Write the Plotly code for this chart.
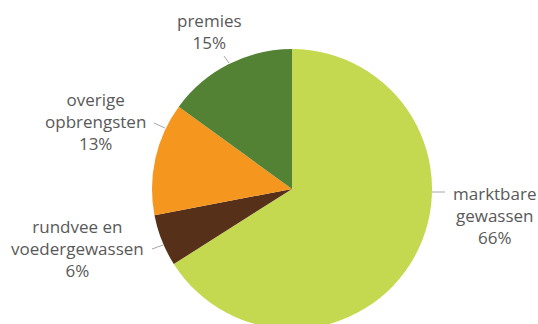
import plotly.graph_objects as go

# data
categories = ["marktbare gewassen", "rundvee en voedergewassen", "overige opbrengsten", "premies"]
display_labels = ["marktbare<br>gewassen", "rundvee en<br>voedergewassen", "overige<br>opbrengsten", "premies"]
values = [66, 6, 13, 15]
colors = ["#c4d950", "#57301a", "#f5961e", "#548235"]

W, H = 538, 340

# label layout (pixel positions of label centres and leader lines)
label_pos = [(494, 215), (77, 248), (95, 121), (209, 31)]
leader_lines = [((432, 192), (445, 192)), ((152, 249), (163, 245)),
                ((154, 123), (165, 128)), ((224, 56), (229, 63))]

fig = go.Figure(go.Pie(
    labels=categories, values=values, sort=False, direction="clockwise", rotation=0,
    marker=dict(colors=colors, line=dict(width=0)),
    textinfo="none", hoverinfo="label+percent",
    domain=dict(x=[152 / W, 432 / W], y=[(H - 329) / H, (H - 49) / H]),
    showlegend=False,
))

total = sum(values)
anns = []
for lab, v, (px, py) in zip(display_labels, values, label_pos):
    pct = round(100 * v / total)
    anns.append(dict(text=f"{lab}<br>{pct}%", x=px / W, y=1 - py / H, xref="paper", yref="paper",
                     xanchor="center", yanchor="middle", showarrow=False, align="center",
                     font=dict(family="Open Sans", size=17, color="#595959")))
shapes = []
for (x0, y0), (x1, y1) in leader_lines:
    shapes.append(dict(type="line", xref="paper", yref="paper", x0=x0 / W, y0=1 - y0 / H,
                       x1=x1 / W, y1=1 - y1 / H, line=dict(color="#a6a6a6", width=1)))

fig.update_layout(width=W, height=H, margin=dict(l=0, r=0, t=0, b=0),
                  paper_bgcolor="white", plot_bgcolor="white",
                  annotations=anns, shapes=shapes)

fig.write_html("out.html", config={"displayModeBar": False},
               post_script="document.body.style.margin='0';document.body.style.overflow='hidden';document.documentElement.style.overflow='hidden';")
